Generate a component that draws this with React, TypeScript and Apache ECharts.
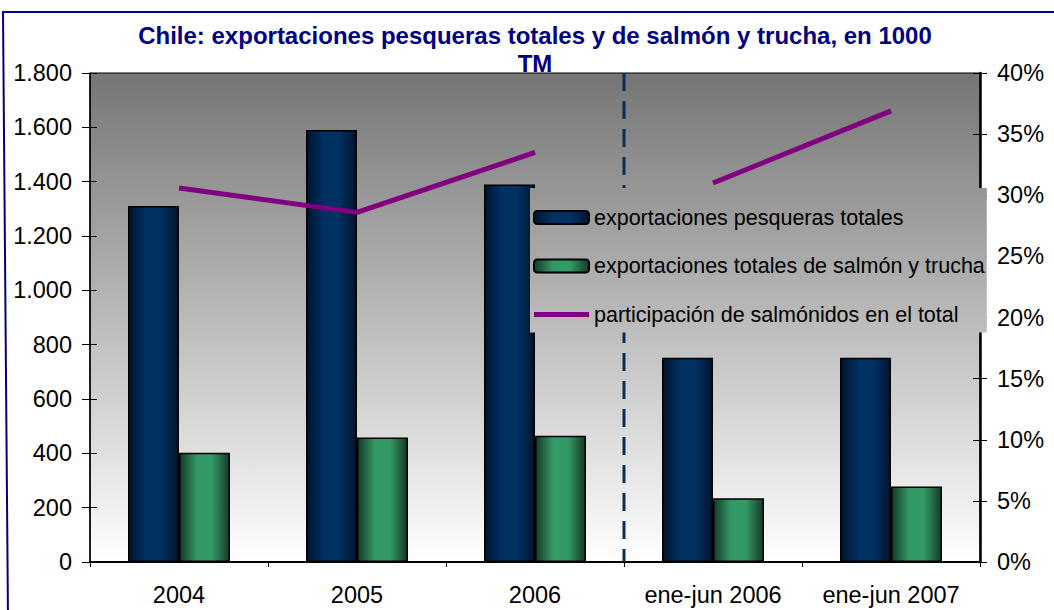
import React, { useEffect, useRef } from "react";
import * as echarts from "echarts";

const categories = ["2004", "2005", "2006", "ene-jun 2006", "ene-jun 2007"];
const exportTotales = [1310, 1590, 1390, 752, 752];
const exportSalmon = [402, 458, 465, 235, 278];
const participacion = [30.6, 28.6, 33.5, 31.0, 36.9];
const annualCount = 3; // first 3 categories are full years, then half-years

const leftTicks = { min: 0, max: 1800, interval: 200 };
const rightTicks = { min: 0, max: 40, interval: 5 };

const SERIES_NAMES = [
  "exportaciones pesqueras totales",
  "exportaciones totales de salmón y trucha",
  "participación de salmónidos en el total",
];

const FONT = "'Liberation Sans', Arial, sans-serif";

function thousands(v: number): string {
  return String(v).replace(/\B(?=(\d{3})+(?!\d))/g, ".");
}

export default function App() {
  const ref = useRef<HTMLDivElement>(null);

  useEffect(() => {
    document.body.style.margin = "0";
    const chart = echarts.init(ref.current!, null, { renderer: "svg" });

    const blueGrad = new echarts.graphic.LinearGradient(0, 0, 1, 0, [
      { offset: 0, color: "#00142c" },
      { offset: 0.35, color: "#003163" },
      { offset: 0.65, color: "#003163" },
      { offset: 1, color: "#00142c" },
    ]);
    const greenGrad = new echarts.graphic.LinearGradient(0, 0, 1, 0, [
      { offset: 0, color: "#173a27" },
      { offset: 0.35, color: "#339966" },
      { offset: 0.65, color: "#339966" },
      { offset: 1, color: "#173a27" },
    ]);

    const partAnual = participacion.map((v, i) => (i < annualCount ? v : "-"));
    const partSemestral = participacion.map((v, i) => (i >= annualCount ? v : "-"));

    const axisLabelStyle = { color: "#000", fontSize: 23.5, fontFamily: FONT };

    chart.setOption({
      animation: false,
      backgroundColor: "#ffffff",
      textStyle: { fontFamily: FONT },
      grid: {
        left: 90,
        right: 74,
        top: 73,
        bottom: 48,
        show: true,
        z: -1,
        borderColor: "#000",
        borderWidth: 1,
        backgroundColor: new echarts.graphic.LinearGradient(0, 0, 0, 1, [
          { offset: 0, color: "#757575" },
          { offset: 1, color: "#ffffff" },
        ]),
      },
      graphic: [
        {
          id: "border",
          type: "polyline",
          shape: { points: [[1080, 12], [3, 12], [8, 620]] },
          style: { stroke: "#000080", lineWidth: 2, fill: null },
          silent: true,
        },
        {
          id: "title",
          type: "text",
          x: 535,
          y: 49,
          style: {
            text: "Chile: exportaciones pesqueras totales y de salmón y trucha, en 1000\nTM",
            fill: "#000080",
            font: `bold 24px ${FONT}`,
            lineHeight: 28,
            textAlign: "center",
            textVerticalAlign: "middle",
          },
        },
      ],
      legend: {
        orient: "vertical",
        left: 530,
        top: 188,
        padding: [18.5, 2, 7, 3],
        itemGap: 26.5,
        itemWidth: 55,
        itemHeight: 13,
        backgroundColor: new echarts.graphic.LinearGradient(0, 0, 0, 1, [
          { offset: 0, color: "#959595" },
          { offset: 1, color: "#bebebe" },
        ]),
        textStyle: { color: "#000", fontSize: 21.5, fontFamily: FONT, lineHeight: 22 },
        data: [
          { name: SERIES_NAMES[0] },
          { name: SERIES_NAMES[1] },
          {
            name: SERIES_NAMES[2],
            icon: "path://M0,0L110,0L110,10L0,10Z",
            itemStyle: { color: "#800080", borderWidth: 0 },
          },
        ],
      },
      xAxis: {
        type: "category",
        data: categories,
        boundaryGap: true,
        axisLine: { lineStyle: { color: "#000", width: 2 } },
        axisTick: { show: true, length: 5, lineStyle: { color: "#000" } },
        axisLabel: { ...axisLabelStyle, margin: 21, interval: 0 },
        splitLine: { show: false },
      },
      yAxis: [
        {
          type: "value",
          position: "left",
          ...leftTicks,
          axisLine: { show: true, lineStyle: { color: "#000", width: 1.5 } },
          axisTick: { show: true, length: 8, lineStyle: { color: "#000" } },
          axisLabel: { ...axisLabelStyle, margin: 18, formatter: (v: number) => thousands(v) },
          splitLine: { show: false },
        },
        {
          type: "value",
          position: "right",
          ...rightTicks,
          axisLine: { show: true, lineStyle: { color: "#000", width: 2.5 } },
          axisTick: { show: true, length: 7, lineStyle: { color: "#000" } },
          axisLabel: { ...axisLabelStyle, margin: 17, formatter: "{value}%" },
          splitLine: { show: false },
        },
        {
          type: "value",
          position: "left",
          offset: 0,
          ...leftTicks,
          axisLine: { show: false },
          axisTick: { show: true, inside: true, length: 7, lineStyle: { color: "#000" } },
          axisLabel: { show: false },
          splitLine: { show: false },
        },
        {
          type: "value",
          position: "right",
          offset: 0,
          ...rightTicks,
          axisLine: { show: false },
          axisTick: { show: true, inside: true, length: 7, lineStyle: { color: "#000" } },
          axisLabel: { show: false },
          splitLine: { show: false },
        },
      ],
      series: [
        {
          name: SERIES_NAMES[0],
          type: "bar",
          data: exportTotales,
          barWidth: 51,
          barGap: "0%",
          itemStyle: { color: blueGrad, borderColor: "#000", borderWidth: 1.5 },
        },
        {
          name: SERIES_NAMES[1],
          type: "bar",
          data: exportSalmon,
          barWidth: 51,
          barGap: "0%",
          itemStyle: { color: greenGrad, borderColor: "#000", borderWidth: 1.5 },
        },
        {
          name: SERIES_NAMES[2],
          type: "line",
          yAxisIndex: 1,
          data: partAnual,
          symbol: "none",
          lineStyle: { color: "#800080", width: 5 },
          itemStyle: { color: "#800080" },
        },
        {
          name: SERIES_NAMES[2],
          type: "line",
          yAxisIndex: 1,
          data: partSemestral,
          symbol: "none",
          lineStyle: { color: "#800080", width: 5 },
          itemStyle: { color: "#800080" },
        },
      ],
    });

    // Dashed separator between full years and half-year periods,
    // positioned through the library's own scales.
    const xA = chart.convertToPixel({ xAxisIndex: 0 }, categories[annualCount - 1]) as number;
    const xB = chart.convertToPixel({ xAxisIndex: 0 }, categories[annualCount]) as number;
    const yTop = chart.convertToPixel({ yAxisIndex: 0 }, leftTicks.max) as number;
    const yBot = chart.convertToPixel({ yAxisIndex: 0 }, leftTicks.min) as number;
    const xSep = (xA + xB) / 2;
    chart.setOption({
      graphic: [
        {
          id: "separator",
          type: "line",
          z: 1,
          shape: { x1: xSep, y1: yTop, x2: xSep, y2: yBot },
          style: { stroke: "#0c2d57", lineWidth: 3, lineDash: [18, 10] },
          silent: true,
        },
      ],
    });

    return () => chart.dispose();
  }, []);

  return <div ref={ref} style={{ width: 1054, height: 610 }} />;
}
